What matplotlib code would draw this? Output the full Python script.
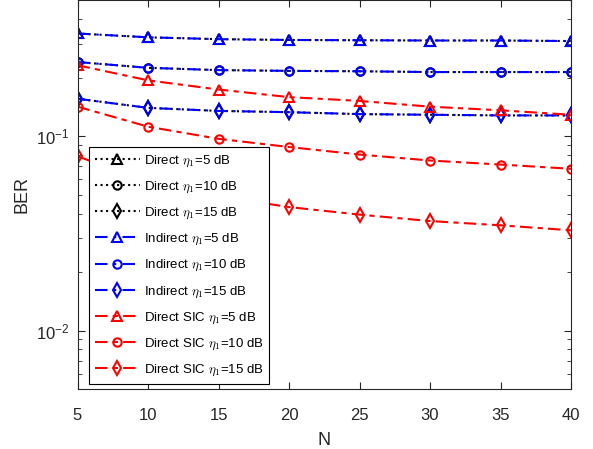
import numpy as np
import matplotlib.pyplot as plt

plt.rcParams['font.family'] = ['Liberation Sans', 'DejaVu Sans']
plt.rcParams['mathtext.fontset'] = 'cm'

N = [5, 10, 15, 20, 25, 30, 35, 40]

# Direct and Indirect curves coincide in the figure
direct_5 = [0.338, 0.323, 0.316, 0.313, 0.312, 0.311, 0.311, 0.309]
direct_10 = [0.241, 0.225, 0.219, 0.217, 0.216, 0.214, 0.214, 0.214]
direct_15 = [0.156, 0.140, 0.135, 0.133, 0.130, 0.129, 0.128, 0.128]

indirect_5 = [0.338, 0.323, 0.316, 0.313, 0.312, 0.311, 0.311, 0.309]
indirect_10 = [0.241, 0.225, 0.219, 0.217, 0.216, 0.214, 0.214, 0.214]
indirect_15 = [0.156, 0.140, 0.135, 0.133, 0.130, 0.129, 0.128, 0.128]

sic_5 = [0.232, 0.194, 0.174, 0.159, 0.152, 0.142, 0.136, 0.129]
sic_10 = [0.142, 0.112, 0.097, 0.088, 0.0805, 0.075, 0.0715, 0.068]
sic_15 = [0.0788, 0.0586, 0.0491, 0.0432, 0.0395, 0.0366, 0.0348, 0.0328]

labels = [r'Direct $\eta_1$=5 dB', r'Direct $\eta_1$=10 dB', r'Direct $\eta_1$=15 dB',
          r'Indirect $\eta_1$=5 dB', r'Indirect $\eta_1$=10 dB', r'Indirect $\eta_1$=15 dB',
          r'Direct SIC $\eta_1$=5 dB', r'Direct SIC $\eta_1$=10 dB', r'Direct SIC $\eta_1$=15 dB']

fig = plt.figure(figsize=(5.93, 4.49), dpi=100)
ax = fig.add_axes([0.1307, 0.1336, 0.8323, 0.8654])

lw = 1.5
ms = 7
blue_ls = (0, (6, 3, 1.2, 3))
red_ls = (0, (6, 2.5, 2.5, 2.5))

ax.plot(N, direct_5, ':', color='black', lw=lw, marker='^', ms=ms, mfc='none', mew=lw, label=labels[0])
ax.plot(N, direct_10, ':', color='black', lw=lw, marker='o', ms=ms - 1, mfc='none', mew=lw, label=labels[1])
ax.plot(N, direct_15, ':', color='black', lw=lw, marker='d', ms=ms, mfc='none', mew=lw, label=labels[2])
ax.plot(N, indirect_5, linestyle=blue_ls, color='blue', lw=lw, marker='^', ms=ms, mfc='none', mew=lw, label=labels[3])
ax.plot(N, indirect_10, linestyle=blue_ls, color='blue', lw=lw, marker='o', ms=ms - 1, mfc='none', mew=lw, label=labels[4])
ax.plot(N, indirect_15, linestyle=blue_ls, color='blue', lw=lw, marker='d', ms=ms, mfc='none', mew=lw, label=labels[5])
ax.plot(N, sic_5, linestyle=red_ls, color='red', lw=lw, marker='^', ms=ms, mfc='none', mew=lw, label=labels[6])
ax.plot(N, sic_10, linestyle=red_ls, color='red', lw=lw, marker='o', ms=ms - 1, mfc='none', mew=lw, label=labels[7])
ax.plot(N, sic_15, linestyle=red_ls, color='red', lw=lw, marker='d', ms=ms, mfc='none', mew=lw, label=labels[8])

ax.set_yscale('log')
ax.set_xlim(5, 40)
ax.set_ylim(0.005, 0.5)
ax.set_xticks(N)

axis_color = '#262626'
for s in ax.spines.values():
    s.set_color(axis_color)
    s.set_linewidth(0.8)
ax.tick_params(which='both', direction='in', top=True, right=True, colors=axis_color, labelsize=12)
ax.tick_params(which='major', length=5, pad=6)
ax.tick_params(axis='x', which='major', pad=14)
ax.tick_params(which='minor', length=3)
ax.set_xlabel('N', fontsize=13, color=axis_color, labelpad=6)
ax.set_ylabel('BER', fontsize=13, color=axis_color)

leg = ax.legend(loc='lower left', bbox_to_anchor=(0.023, 0.013), borderaxespad=0,
                fontsize=9.5, labelspacing=0.82, handlelength=3.4, handletextpad=0.3,
                fancybox=False, framealpha=1, edgecolor='black', borderpad=0.45)
leg.get_frame().set_linewidth(0.8)

fig.savefig('out.png', dpi=100)
